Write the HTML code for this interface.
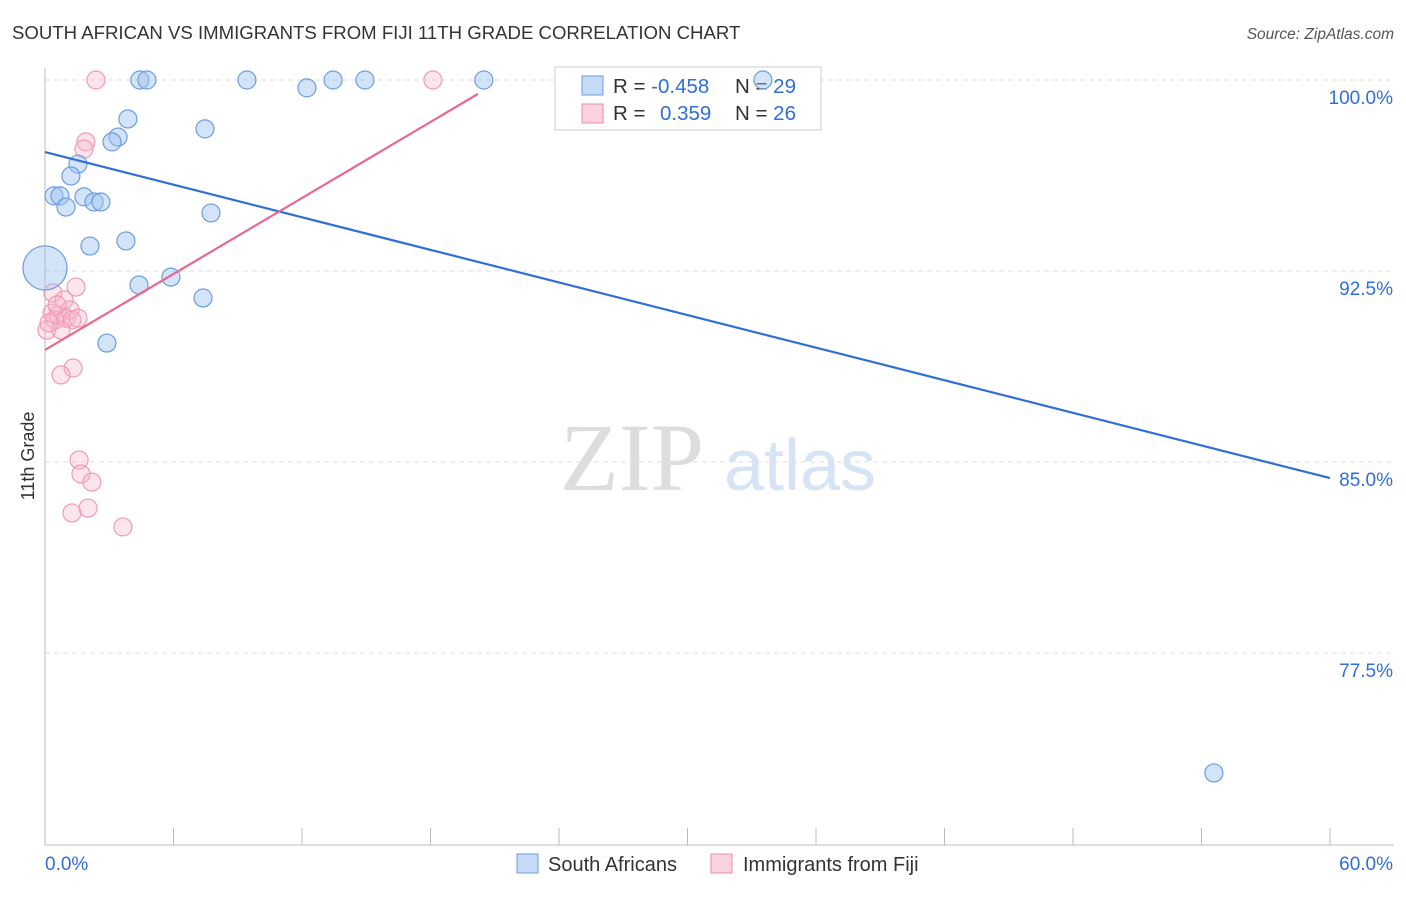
<!DOCTYPE html>
<html><head><meta charset="utf-8"><style>
body{margin:0;background:#fff;font-family:"Liberation Sans",sans-serif}
svg text{font-family:"Liberation Sans",sans-serif}
</style></head><body>
<svg id="chart" width="1406" height="892" xmlns="http://www.w3.org/2000/svg">
<text x="12" y="39" font-size="18.6" fill="#333">SOUTH AFRICAN VS IMMIGRANTS FROM FIJI 11TH GRADE CORRELATION CHART</text>
<text x="1394" y="39" font-size="15.5" fill="#555" text-anchor="end" font-style="italic">Source: ZipAtlas.com</text>
<g>
<text x="632" y="490" font-size="96" fill="#ddd" text-anchor="middle" style="font-family:'Liberation Serif',serif">ZIP</text>
<text x="800" y="490" font-size="72" fill="#d6e4f6" text-anchor="middle">atlas</text>
</g>
<g id="grid"></g>
<g id="axes"></g>
<g>
<rect x="555" y="67" width="266" height="63" fill="#fff" stroke="#ccc"/>
<rect x="582" y="76" width="21" height="19" fill="rgba(160,196,240,0.6)" stroke="#6a9de0"/>
<text x="613" y="93" font-size="20.5" fill="#333">R = <tspan fill="#2f6fd6">-0.458</tspan></text>
<text x="735" y="93" font-size="20.5" fill="#333">N = <tspan fill="#2f6fd6">29</tspan></text>
<rect x="582" y="104" width="21" height="19" fill="rgba(248,180,200,0.6)" stroke="#f08aaa"/>
<text x="613" y="120" font-size="20.5" fill="#333">R = </text>
<text x="660" y="120" font-size="20.5" fill="#2f6fd6">0.359</text>
<text x="735" y="120" font-size="20.5" fill="#333">N = <tspan fill="#2f6fd6">26</tspan></text>
</g>
<g id="marks"></g>
<text transform="translate(34,456) rotate(-90)" font-size="18" fill="#333" text-anchor="middle">11th Grade</text>
<g>
<rect x="517" y="854" width="21" height="19" fill="rgba(160,196,240,0.6)" stroke="#6a9de0"/>
<text x="548" y="871" font-size="20" fill="#333">South Africans</text>
<rect x="711" y="854" width="21" height="19" fill="rgba(248,180,200,0.6)" stroke="#f08aaa"/>
<text x="743" y="871" font-size="20" fill="#333">Immigrants from Fiji</text>
</g>
</svg>
<script>
const yTicks=[100,92.5,85,77.5];
const yTickLabels=["100.0%","92.5%","85.0%","77.5%"];
const xEnds=["0.0%","60.0%"];
const blueX=[4.43,4.76,9.43,12.23,13.45,14.94,20.49,33.52,3.87,7.47,3.41,3.13,1.54,1.21,0.42,0.70,1.82,2.29,2.61,0.98,7.75,3.78,2.10,5.88,4.39,7.38,2.89,0,54.58];
const blueY=[100,100,100,99.69,100,100,100,100,98.47,98.08,97.76,97.57,96.70,96.23,95.45,95.45,95.41,95.21,95.21,95.01,94.78,93.68,93.48,92.26,91.95,91.44,89.67,92.62,72.79];
const pinkX=[2.38,18.11,1.91,1.82,1.45,0.37,0.89,0.33,0.61,1.17,0.47,0.98,1.26,1.54,0.09,0.75,1.31,0.75,1.59,1.68,2.19,1.26,2.01,3.64,0.19,0.56];
const pinkY=[100,100,97.57,97.29,91.87,91.64,91.36,90.85,90.77,90.97,90.58,90.65,90.58,90.65,90.18,90.18,88.69,88.42,85.08,84.53,84.21,83.0,83.19,82.45,90.46,91.17];
const blueTrend=[[0,97.17],[60,84.37]];
const pinkTrend=[[0,89.40],[20.21,99.45]];
const NS="http://www.w3.org/2000/svg";
const sx=v=>45+v*(1285/60);
const sy=v=>80+(100-v)*(191/7.5);
function mk(tag,attrs,parent){const e=document.createElementNS(NS,tag);for(const k in attrs)e.setAttribute(k,attrs[k]);document.getElementById(parent).appendChild(e);return e;}
yTicks.forEach((t,i)=>{
 const l=mk('line',{x1:45,x2:1394,y1:sy(t),y2:sy(t),stroke:'#ddd','stroke-dasharray':'5,4'},'grid');
 
 
 const tx=mk('text',{x:1393,y:sy(t)+24,'font-size':19,fill:'#2f6fd6','text-anchor':'end'},'grid');
 tx.textContent=yTickLabels[i];
 
 
});
const ax=mk('line',{x1:45,x2:45,y1:68,y2:845,stroke:'#bbb'},'axes');


const bx=mk('line',{x1:45,x2:1394,y1:845,y2:845,stroke:'#bbb'},'axes');


for(let i=0;i<=10;i++){
 const t=mk('line',{x1:sx(i*6),x2:sx(i*6),y1:828,y2:845,stroke:'#bbb'},'axes');
 
 
}
[[0,'start',45],[60,'end',1393]].forEach((d,i)=>{
 const t=mk('text',{x:d[2],y:870,'font-size':19,fill:'#2f6fd6','text-anchor':d[1]},'axes');
 t.textContent=xEnds[i];
 
 
});
pinkX.forEach((x,i)=>{
 const c=mk('circle',{cx:sx(x),cy:sy(pinkY[i]),r:9,fill:'rgba(248,180,200,0.35)',stroke:'#f09ab4','stroke-width':1.2},'marks');
 
 
});
blueX.forEach((x,i)=>{
 const c=mk('circle',{cx:sx(x),cy:sy(blueY[i]),r:(i===27?22:9),fill:'rgba(160,196,240,0.45)',stroke:'#6a9de0','stroke-width':1.2},'marks');
 
 
});
const bl=mk('line',{x1:sx(blueTrend[0][0]),y1:sy(blueTrend[0][1]),x2:sx(blueTrend[1][0]),y2:sy(blueTrend[1][1]),stroke:'#2f6fd6','stroke-width':2.2},'marks');


const pl=mk('line',{x1:sx(pinkTrend[0][0]),y1:sy(pinkTrend[0][1]),x2:sx(pinkTrend[1][0]),y2:sy(pinkTrend[1][1]),stroke:'#e86890','stroke-width':2.2},'marks');


</script>
</body></html>
